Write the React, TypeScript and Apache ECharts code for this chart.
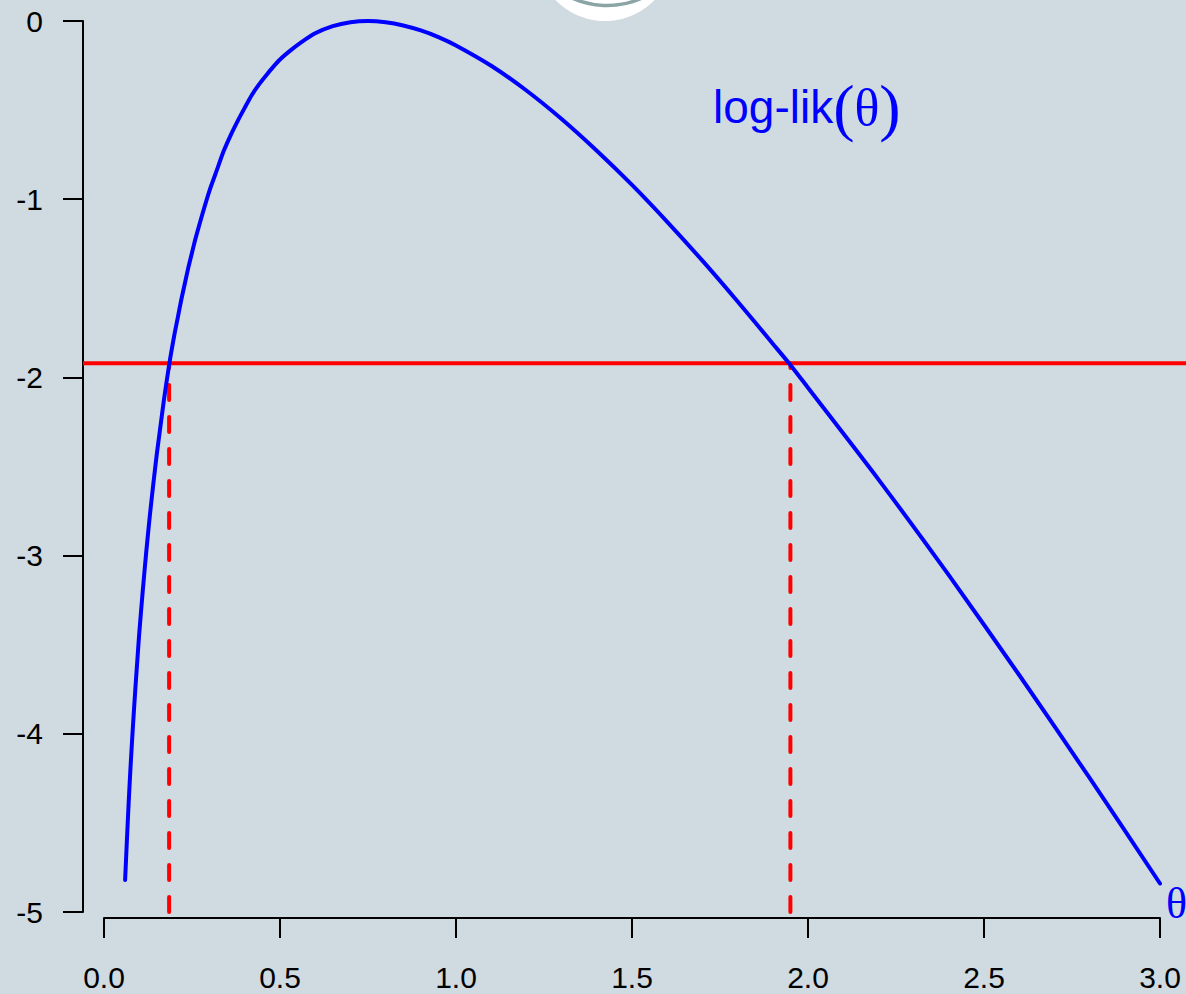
import React, { useEffect, useRef } from "react";
import * as echarts from "echarts";

// theta values and log-likelihood
const thetaValues = [
  0.06, 0.065, 0.07, 0.075, 0.08, 0.085, 0.09, 0.095, 0.1, 0.11, 0.12, 0.13,
  0.14, 0.15, 0.16, 0.17, 0.185, 0.2, 0.21, 0.22, 0.23, 0.24, 0.25, 0.26, 0.28,
  0.3, 0.32, 0.34, 0.36, 0.38, 0.4, 0.42, 0.44, 0.46, 0.48, 0.5, 0.53, 0.56,
  0.6, 0.65, 0.7, 0.75, 0.8, 0.85, 0.9, 0.95, 1.0, 1.1, 1.2, 1.3, 1.4, 1.5,
  1.6, 1.7, 1.8, 1.9, 1.95, 2.0, 2.2, 2.4, 2.6, 2.8, 3.0,
];
const logLikValues = [
  -4.82, -4.6, -4.39, -4.2, -4.03, -3.87, -3.72, -3.58, -3.44, -3.2, -2.98,
  -2.78, -2.6, -2.43, -2.28, -2.13, -1.93, -1.76, -1.66, -1.56, -1.47, -1.38,
  -1.3, -1.22, -1.08, -0.95, -0.84, -0.73, -0.64, -0.56, -0.486, -0.415,
  -0.357, -0.307, -0.259, -0.216, -0.165, -0.12, -0.069, -0.029, -0.007, 0,
  -0.007, -0.025, -0.053, -0.09, -0.137, -0.251, -0.39, -0.55, -0.728, -0.92,
  -1.127, -1.345, -1.574, -1.811, -1.93, -2.058, -2.572, -3.11, -3.67, -4.248,
  -4.84,
];
const cutoff = -1.92;
const ciBounds = [0.185, 1.95];
const yFloor = -5;
const xTicks = [0, 0.5, 1, 1.5, 2, 2.5, 3];
const yTicks = [0, -1, -2, -3, -4, -5];
// full plotting region (R-style 4% extension), x range
const plotXRange = [-0.0597, 3.0739];

const BG = "#cfdbe0";
const SANS = "'Liberation Sans', Arial, Helvetica, sans-serif";
const SERIF = "'Liberation Serif', 'Times New Roman', serif";

export default function App() {
  const ref = useRef<HTMLDivElement>(null);

  useEffect(() => {
    document.body.style.margin = "0";
    if (!ref.current) return;
    const chart = echarts.init(ref.current, undefined, { renderer: "svg" });

    const curve = thetaValues.map((t, i) => [t, logLikValues[i]]);

    const axisLineStyle = { color: "#000", width: 2 };

    const option: any = {
      animation: false,
      backgroundColor: BG,
      grid: [
        { left: 104, right: 26, top: 21, bottom: 82, containLabel: false },
        { left: 83, right: 0, top: 21, bottom: 82, containLabel: false },
      ],
      xAxis: [
        {
          type: "value",
          gridIndex: 0,
          min: xTicks[0],
          max: xTicks[xTicks.length - 1],
          interval: 0.5,
          offset: 6,
          axisLine: { show: true, onZero: false, lineStyle: axisLineStyle },
          axisTick: { show: true, length: 20, lineStyle: axisLineStyle },
          axisLabel: {
            margin: 44,
            fontSize: 30,
            color: "#000",
            fontFamily: SANS,
            formatter: (v: number) => v.toFixed(1),
          },
          splitLine: { show: false },
        },
        {
          type: "value",
          gridIndex: 1,
          min: plotXRange[0],
          max: plotXRange[1],
          show: false,
        },
      ],
      yAxis: [
        {
          type: "value",
          gridIndex: 0,
          min: yTicks[yTicks.length - 1],
          max: yTicks[0],
          interval: 1,
          offset: 21,
          axisLine: { show: true, onZero: false, lineStyle: axisLineStyle },
          axisTick: { show: true, length: 20, lineStyle: axisLineStyle },
          axisLabel: {
            margin: 40,
            fontSize: 30,
            color: "#000",
            fontFamily: SANS,
            formatter: (v: number) => String(v),
          },
          splitLine: { show: false },
        },
        {
          type: "value",
          gridIndex: 1,
          min: yTicks[yTicks.length - 1],
          max: yTicks[0],
          show: false,
        },
      ],
      series: [
        {
          name: "cutoff",
          type: "line",
          xAxisIndex: 1,
          yAxisIndex: 1,
          data: [
            [plotXRange[0], cutoff],
            [plotXRange[1], cutoff],
          ],
          showSymbol: false,
          clip: false,
          silent: true,
          lineStyle: { color: "#ff0000", width: 4 },
          z: 2,
        },
        ...ciBounds.map((b) => ({
          name: "ci" + b,
          type: "line",
          data: [
            [b, yFloor],
            [b, cutoff],
          ],
          showSymbol: false,
          clip: false,
          silent: true,
          lineStyle: { color: "#ff0000", width: 4, type: [15, 17], cap: "round" },
          z: 2,
        })),
        {
          name: "loglik",
          type: "line",
          data: curve,
          smooth: 0.25,
          showSymbol: false,
          clip: false,
          silent: true,
          lineStyle: { color: "#0000ff", width: 4, cap: "round", join: "round" },
          z: 3,
        },
      ],
      graphic: [
        {
          type: "circle",
          shape: { cx: 605, cy: -48, r: 69 },
          style: { fill: "#ffffff" },
          z: 10,
        },
        {
          type: "circle",
          shape: { cx: 607, cy: -80, r: 85.5 },
          style: { fill: "none", stroke: "#8ba5a6", lineWidth: 3.5 },
          z: 11,
        },
        {
          type: "text",
          x: 713,
          y: 107,
          style: {
            text: "{a|log-lik}{p|(}{t|θ}{p|)}",
            verticalAlign: "middle",
            align: "left",
            fill: "#0000ff",
            rich: {
              a: { fontFamily: SANS, fontSize: 46, fill: "#0000ff", color: "#0000ff" },
              p: { fontFamily: SERIF, fontSize: 64, fill: "#0000ff", color: "#0000ff" },
              t: { fontFamily: SERIF, fontSize: 52, fill: "#0000ff", color: "#0000ff" },
            },
          },
          z: 12,
        },
        {
          type: "text",
          x: 1166,
          y: 903,
          style: {
            text: "θ",
            fontFamily: SERIF,
            fontSize: 44,
            fill: "#0000ff",
            verticalAlign: "middle",
            align: "left",
          },
          z: 12,
        },
      ],
    };

    chart.setOption(option);
    return () => chart.dispose();
  }, []);

  return (
    <div
      ref={ref}
      style={{ position: "fixed", left: 0, top: 0, width: 1186, height: 994 }}
    />
  );
}
